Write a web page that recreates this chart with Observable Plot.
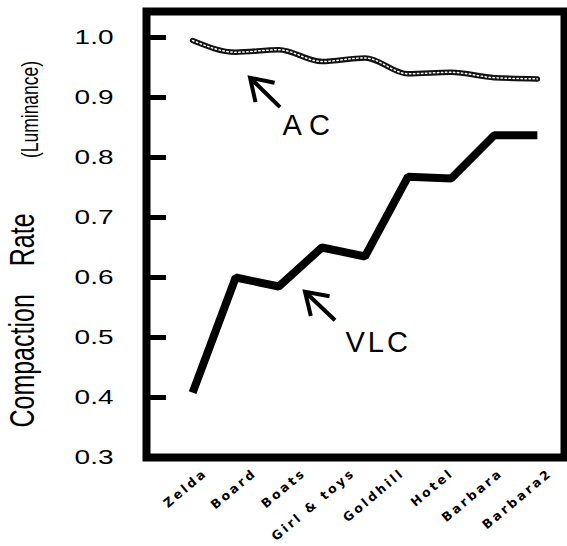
<!DOCTYPE html>
<html>
<head>
<meta charset="utf-8">
<script src="https://cdn.jsdelivr.net/npm/d3@7"></script>
<script src="https://cdn.jsdelivr.net/npm/@observablehq/plot@0.6"></script>
<style>
html, body { margin: 0; padding: 0; background: #fff; }
</style>
</head>
<body>
<div id="chart"></div>
<script>
// ---- data ----
const images = ["Zelda", "Board", "Boats", "Girl & toys", "Goldhill", "Hotel", "Barbara", "Barbara2"];
const step = [0, 1, 2, 3, 4, 5, 6, 7, 8];
const vlc = [0.408, 0.600, 0.585, 0.650, 0.635, 0.768, 0.765, 0.837, 0.837];
const ac  = [0.995, 0.9755, 0.9795, 0.960, 0.966, 0.9395, 0.942, 0.933, 0.931];
const yTicks = [0.3, 0.4, 0.5, 0.6, 0.7, 0.8, 0.9, 1.0];
const yTitle = "Compaction Rate";
const yTitleSub = "(Luminance)";
const arrows = [
  {label: "AC",  x1: 2.04,  y1: 0.883, x2: 1.345, y2: 0.932},
  {label: "VLC", x1: 3.316, y1: 0.528, x2: 2.62,  y2: 0.5755}
];
const notes = [
  {label: "AC",  x: 2.087, y: 0.838},
  {label: "VLC", x: 3.548, y: 0.475}
];

// ---- tables built from the arrays ----
const vlcData = step.map((s, i) => ({s, v: vlc[i]}));
const acData = step.map((s, i) => ({s, v: ac[i]}));
const labelPos = images.map((d, i) => i * (step.length - 1) / (images.length - 1));

function arrowMark(data) {
  return (index, scales) => {
    const g = d3.create("svg:g")
      .attr("fill", "none")
      .attr("stroke", "#000")
      .attr("stroke-width", 4)
      .attr("stroke-linejoin", "miter");
    for (const a of data) {
      const x1 = scales.x(a.x1), y1 = scales.y(a.y1);
      const x2 = scales.x(a.x2), y2 = scales.y(a.y2);
      const ang = Math.atan2(y1 - y2, x1 - x2);
      const w = 25, h = 33 * Math.PI / 180;
      const p = d3.path();
      p.moveTo(x1, y1); p.lineTo(x2, y2);
      p.moveTo(x2 + w * Math.cos(ang - h), y2 + w * Math.sin(ang - h));
      p.lineTo(x2, y2);
      p.lineTo(x2 + w * Math.cos(ang + h), y2 + w * Math.sin(ang + h));
      g.append("path").attr("d", p.toString());
    }
    return g.node();
  };
}

const font = "'Liberation Sans', Arial, Helvetica, sans-serif";
const labelAngle = -40;

const svg = Plot.plot({
  width: 567,
  height: 546,
  marginLeft: 146,
  marginRight: 3,
  marginTop: 11,
  marginBottom: 89,
  x: {domain: [-1.07, 8.63], axis: null},
  y: {domain: [0.3, 1.0433], axis: null},
  style: {fontFamily: font, background: "#fff", color: "#000"},
  marks: [
    Plot.line(vlcData, {x: "s", y: "v", stroke: "#000", strokeWidth: 8, strokeLinejoin: "miter", strokeLinecap: "butt"}),
    Plot.line(acData, {x: "s", y: "v", stroke: "#111", strokeWidth: 5.5, curve: "monotone-x"}),
    Plot.line(acData, {x: "s", y: "v", stroke: "#fff", strokeWidth: 1.5, strokeDasharray: "1.4,2.6", curve: "monotone-x"}),
    Plot.tickY(yTicks, {y: d => d, stroke: "#000", strokeWidth: 5, insetRight: 398}),
    Plot.axisY(yTicks, {anchor: "left", tickSize: 0, tickPadding: 33, fontSize: 20, label: null, tickFormat: d => d.toFixed(1)}),
    Plot.text([yTitle], {frameAnchor: "left", rotate: -90, dx: -113, dy: 86, textAnchor: "middle", lineAnchor: "bottom", fontSize: 25}),
    Plot.text([yTitleSub], {frameAnchor: "left", rotate: -90, dx: -109, dy: -125, textAnchor: "middle", lineAnchor: "bottom", fontSize: 17.5}),
    Plot.text(images, {x: (d, i) => labelPos[i], frameAnchor: "bottom", textAnchor: "end", lineAnchor: "top", rotate: labelAngle, dx: 10, dy: 10, fontSize: 12.5, fontFamily: "DejaVu Sans", fontWeight: "bold", fill: "#000"}),
    arrowMark(arrows),
    Plot.text(notes, {x: "x", y: "y", text: "label", textAnchor: "start", lineAnchor: "bottom", fontSize: 29}),
    Plot.frame({stroke: "#000", strokeWidth: 8})
  ]
});

// lettering adjustments
const SVGNS = "http://www.w3.org/2000/svg";
const noteLabels = notes.map(d => d.label);
const toWrap = [];
d3.select(svg).selectAll("text").each(function () {
  const s = this.textContent;
  if (noteLabels.includes(s)) {
    this.style.letterSpacing = s === "AC" ? "7px" : "3px";
    return;
  }
  if (images.includes(s)) {
    this.style.letterSpacing = "2.7px";
    toWrap.push(this);
    return;
  }
  if (s === yTitle) this.style.wordSpacing = "21px";
  const t = this.getAttribute("transform");
  if (t && t.startsWith("translate(")) {
    this.setAttribute("transform", t.replace(/^(translate\([^)]*\))/, "$1 scale(1.4,1)"));
  }
});
// put each slanted label inside its own rotated group
for (const node of toWrap) {
  const t = node.getAttribute("transform") || "";
  const m = /translate\(([^,\s]+)[,\s]+([^)]+)\)/.exec(t);
  if (!m) continue;
  const g = document.createElementNS(SVGNS, "g");
  g.setAttribute("transform", `translate(${m[1]},${m[2]}) rotate(${labelAngle})`);
  node.removeAttribute("transform");
  node.parentNode.insertBefore(g, node);
  g.appendChild(node);
}

document.getElementById("chart").appendChild(svg);
</script>
</body>
</html>
